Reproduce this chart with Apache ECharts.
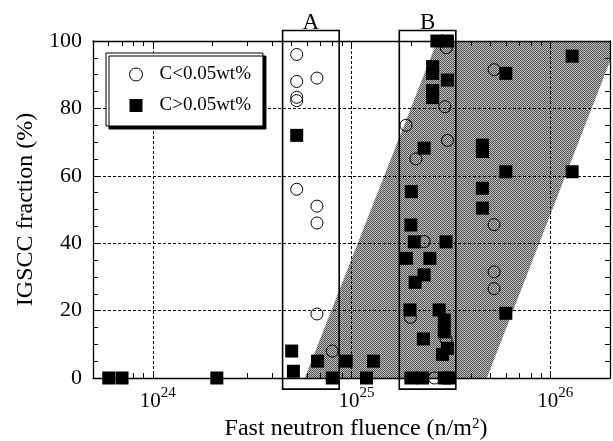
<!DOCTYPE html>
<html>
<head>
<meta charset="utf-8">
<script src="https://cdn.jsdelivr.net/npm/echarts@6/dist/echarts.min.js"></script>
<style>
html,body{margin:0;padding:0;background:#fff;}
#chart{width:613px;height:441px;}
</style>
</head>
<body>
<div id="chart"></div>
<script>
// ---- data ----
const circleX = [5.3e24, 5.3e24, 6.7e24, 5.3e24, 5.3e24, 5.3e24, 6.7e24, 6.7e24, 6.7e24, 8.0e24,
  3.0e25, 1.88e25, 2.95e25, 3.04e25, 2.11e25, 5.22e25, 5.22e25, 5.22e25, 5.22e25, 2.32e25, 1.98e25, 2.99e25, 2.61e25];
const circleY = [96, 88, 89, 83.3, 82.3, 56, 51, 46, 19, 8,
  98, 75, 80.5, 70.5, 65, 91.5, 45.5, 31.5, 26.5, 40.5, 18, 11.5, 0];

const squareX = [6.0e23, 7.0e23, 2.1e24, 5.3e24, 5.0e24, 5.1e24, 6.75e24, 8.0e24, 9.4e24, 1.29e25, 1.19e25,
  2.69e25, 3.04e25, 2.56e25, 2.56e25, 3.04e25, 2.56e25, 2.56e25, 2.32e25, 4.56e25, 4.56e25, 2.0e25,
  4.56e25, 4.56e25, 5.98e25, 1.29e26, 1.29e26, 5.98e25, 5.98e25, 1.99e25, 2.07e25, 2.99e25, 1.89e25,
  2.48e25, 2.32e25, 2.09e25, 1.97e25, 2.76e25, 2.93e25, 2.93e25, 2.30e25, 2.87e25, 3.04e25,
  1.99e25, 2.28e25, 2.93e25, 3.1e25];
const squareY = [0, 0, 0, 72, 8, 2, 5, 0, 5, 5, 0,
  100, 100, 92.4, 90.4, 88.4, 85.3, 83.2, 68.2, 69.1, 67.2, 55.3,
  56.3, 50.4, 90.4, 95.5, 61.2, 61.2, 19.2, 45.4, 40.4, 40.4, 35.5,
  35.5, 30.6, 28.4, 20.2, 20.2, 17.2, 13.7, 11.6, 7.0, 8.8,
  0, 0, 0, 0];

// shaded band (parallelogram corners)
const bandX = [5.82e24, 2.7e25, 2.19e26, 4.8e25];
const bandY = [0, 100, 100, 0];

// boxes A and B
const boxLabels = ['A', 'B'];
const boxX0 = [4.5e24, 1.74e25];
const boxX1 = [8.67e24, 3.35e25];
const boxY0 = [-3.3, -3.3];
const boxY1 = [103.1, 103.1];

const seriesNames = ['C<0.05wt%', 'C>0.05wt%'];
const xMin = 5e23, xMax = 2e26;
const majorTicks = [1e24, 1e25, 1e26];
const minorTicks = [6e23, 7e23, 8e23, 9e23, 2e24, 3e24, 4e24, 5e24, 6e24, 7e24, 8e24, 9e24,
  2e25, 3e25, 4e25, 5e25, 6e25, 7e25, 8e25, 9e25];
const xTitle = 'Fast neutron fluence (n/m{sup|2})';
const yTitle = 'IGSCC fraction (%)';

// ---- chart ----
const FONT = "'Liberation Serif','Times New Roman',serif";
const chart = echarts.init(document.getElementById('chart'), null, {renderer: 'canvas'});

// halftone pattern for the band
const pc = document.createElement('canvas');
pc.width = 2; pc.height = 2;
const pctx = pc.getContext('2d');
pctx.fillStyle = '#bcbcbc'; pctx.fillRect(0, 0, 2, 2);
pctx.fillStyle = '#555555'; pctx.fillRect(0, 0, 1, 1); pctx.fillRect(1, 1, 1, 1);
const bandFill = {image: pc, repeat: 'repeat'};

const lg = v => Math.log10(v);
const isPow10 = v => Math.abs(lg(v) - Math.round(lg(v))) < 1e-6;

const axisLineStyle = {color: '#000', width: 1.3};

const option = {
  animation: false,
  backgroundColor: '#fff',
  grid: {left: 93, right: 3, top: 41, bottom: 63, containLabel: false, outerBoundsMode: 'none'},
  legend: {
    left: 106, top: 53,
    orient: 'vertical',
    backgroundColor: '#fff',
    borderColor: '#000', borderWidth: 1,
    shadowColor: '#000', shadowOffsetX: 3, shadowOffsetY: 3, shadowBlur: 0,
    padding: [12, 12, 11, 23],
    itemWidth: 13, itemHeight: 13, itemGap: 12,
    textStyle: {fontFamily: FONT, fontSize: 19, color: '#000', padding: [0, 0, 0, 12]},
    data: [
      {name: seriesNames[0], icon: 'circle', itemStyle: {color: '#fff', borderColor: '#000', borderWidth: 1}},
      {name: seriesNames[1], icon: 'rect', itemStyle: {color: '#000', borderWidth: 0}}
    ]
  },
  xAxis: [
    {
      type: 'log', logBase: 10, min: xMin, max: xMax, position: 'bottom',
      name: xTitle, nameLocation: 'middle', nameGap: 38,
      nameTextStyle: {fontFamily: FONT, fontSize: 24, color: '#000', padding: [0, 0, 0, 9],
        rich: {sup: {fontFamily: FONT, fontSize: 15, verticalAlign: 'top', lineHeight: 24}}},
      axisLine: {show: true, onZero: false, lineStyle: axisLineStyle},
      axisTick: {show: true, inside: true, length: 7, lineStyle: {color: '#000'}},
      splitLine: {show: true, lineStyle: {color: '#000', type: [3, 2], width: 1}},
      axisLabel: {
        margin: 8, padding: [0, 0, 0, 10], showMinLabel: false, showMaxLabel: false,
        formatter: v => isPow10(v) ? '{b|10}{s|' + Math.round(lg(v)) + '}' : '',
        rich: {
          b: {fontFamily: FONT, fontSize: 21, color: '#000', lineHeight: 26, verticalAlign: 'bottom'},
          s: {fontFamily: FONT, fontSize: 15, color: '#000', verticalAlign: 'top', lineHeight: 15}
        }
      }
    },
    {
      type: 'value', min: lg(xMin), max: lg(xMax), position: 'top',
      axisLine: {show: true, onZero: false, lineStyle: axisLineStyle},
      axisTick: {show: true, inside: true, length: 5, lineStyle: {color: '#000'},
        customValues: minorTicks.concat(majorTicks).map(lg)},
      axisLabel: {show: false}, splitLine: {show: false}
    },
    {
      type: 'value', min: lg(xMin), max: lg(xMax), position: 'bottom',
      axisLine: {show: false, onZero: false},
      axisTick: {show: true, inside: true, length: 5, lineStyle: {color: '#000'},
        customValues: minorTicks.map(lg)},
      axisLabel: {show: false}, splitLine: {show: false}
    }
  ],
  yAxis: [
    {
      type: 'value', min: 0, max: 100, interval: 20, position: 'left',
      name: yTitle, nameLocation: 'middle', nameGap: 53,
      nameTextStyle: {fontFamily: FONT, fontSize: 24, color: '#000'},
      axisLine: {show: true, onZero: false, lineStyle: axisLineStyle},
      axisTick: {show: true, inside: true, length: 5, lineStyle: {color: '#000'}},
      minorTick: {show: true, splitNumber: 4, length: 5, lineStyle: {color: '#000'}},
      splitLine: {show: true, lineStyle: {color: '#000', type: [3, 2], width: 1}},
      axisLabel: {margin: 11, fontFamily: FONT, fontSize: 22, color: '#000'}
    },
    {
      type: 'value', min: 0, max: 100, interval: 20, position: 'right',
      axisLine: {show: true, onZero: false, lineStyle: axisLineStyle},
      axisTick: {show: true, inside: true, length: 5, lineStyle: {color: '#000'}},
      minorTick: {show: true, splitNumber: 4, length: 5, lineStyle: {color: '#000'}},
      splitLine: {show: false}, axisLabel: {show: false}
    }
  ],
  series: [
    {
      type: 'custom', name: 'band', z: -1, clip: true,
      xAxisIndex: 0, yAxisIndex: 0, silent: true,
      data: [[bandX[0], bandY[0]]],
      renderItem: (params, api) => {
        const pts = bandX.map((x, i) => api.coord([x, bandY[i]]));
        return {type: 'polygon', shape: {points: pts}, style: {fill: bandFill, stroke: null}};
      }
    },
    {
      type: 'custom', name: 'boxes', z: 3, clip: false,
      xAxisIndex: 0, yAxisIndex: 0, silent: true,
      data: boxLabels.map((l, i) => [boxX0[i], boxY0[i]]),
      renderItem: (params, api) => {
        const i = params.dataIndex;
        const tl = api.coord([boxX0[i], boxY1[i]]);
        const br = api.coord([boxX1[i], boxY0[i]]);
        return {
          type: 'group',
          children: [
            {type: 'rect', shape: {x: tl[0], y: tl[1], width: br[0] - tl[0], height: br[1] - tl[1]},
              style: {fill: null, stroke: '#000', lineWidth: 1.6}},
            {type: 'text', style: {text: boxLabels[i], x: (tl[0] + br[0]) / 2, y: tl[1] + 4,
              align: 'center', verticalAlign: 'bottom', font: '23px ' + FONT, fill: '#000'}}
          ]
        };
      }
    },
    {
      type: 'scatter', name: seriesNames[0], z: 4,
      xAxisIndex: 0, yAxisIndex: 0,
      symbol: 'circle', symbolSize: 12,
      itemStyle: {color: 'rgba(0,0,0,0)', borderColor: '#000', borderWidth: 1, opacity: 1},
      data: circleX.map((x, i) => [x, circleY[i]])
    },
    {
      type: 'scatter', name: seriesNames[1], z: 5,
      xAxisIndex: 0, yAxisIndex: 0,
      symbol: 'rect', symbolSize: 13,
      itemStyle: {color: '#000', opacity: 1},
      data: squareX.map((x, i) => [x, squareY[i]])
    }
  ]
};
chart.setOption(option);
</script>
</body>
</html>
